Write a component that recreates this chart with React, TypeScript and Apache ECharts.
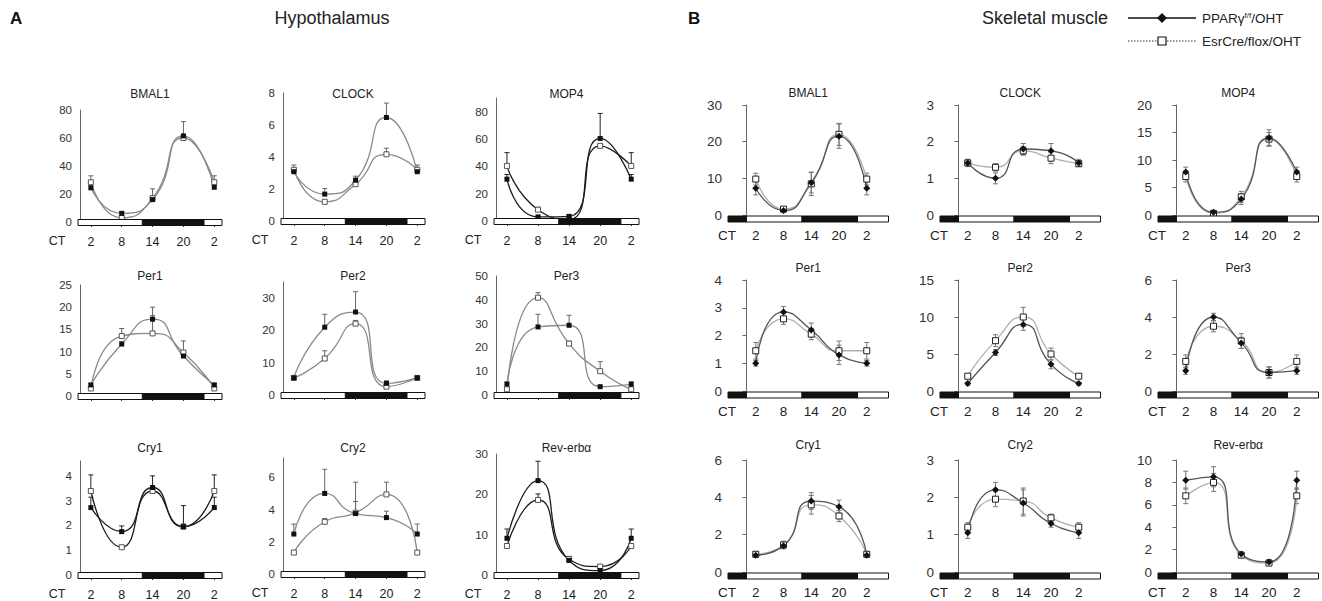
import React, { useEffect, useRef } from 'react';
import * as echarts from 'echarts';

// ---------- data ----------
const CT = [2, 8, 14, 20, 26];
const CT_TEXT = ['2', '8', '14', '20', '2'];

// A: Hypothalamus  (P = PPARγ f/f/OHT, filled; E = EsrCre/flox/OHT, open; *Err = upper SEM)
const hBmal1P = [24.4, 6.2, 16, 61.5, 24.8];
const hBmal1PErr = [1.5, 1, 7.7, 10.2, 1.5];
const hBmal1E = [28.4, 3, 17, 60, 28.4];
const hBmal1EErr = [4.6, 0, 1, 2, 4.6];

const hClockP = [3.08, 1.68, 2.55, 6.47, 3.08];
const hClockPErr = [0.2, 0.35, 0.25, 0.9, 0.2];
const hClockE = [3.2, 1.2, 2.3, 4.17, 3.2];
const hClockEErr = [0.3, 0.1, 0.1, 0.38, 0.3];

const hMop4P = [30.6, 3, 3.4, 60.4, 30.6];
const hMop4PErr = [3.4, 0.5, 1.2, 18.3, 3.4];
const hMop4E = [40.3, 8.3, 1, 55, 40.3];
const hMop4EErr = [9.7, 1.7, 0.5, 1, 9.7];

const hPer1P = [2.5, 11.7, 17.3, 9, 2.5];
const hPer1PErr = [0.3, 0.5, 2.7, 0.5, 0.3];
const hPer1E = [1.7, 13.5, 14.1, 9.8, 1.7];
const hPer1EErr = [0.3, 1.7, 4, 2.6, 0.3];

const hPer2P = [5.3, 21, 25.7, 3.6, 5.3];
const hPer2PErr = [0.5, 4, 6.3, 0.8, 0.5];
const hPer2E = [5.3, 11.3, 22.1, 2.6, 5.3];
const hPer2EErr = [0.3, 2.4, 1, 0.5, 0.3];

const hPer3P = [4.6, 28.6, 29.3, 3.5, 4.5];
const hPer3PErr = [0.8, 5.3, 4.2, 0.5, 1.1];
const hPer3E = [2.4, 40.9, 21.6, 10, 2.4];
const hPer3EErr = [0.5, 2.1, 1, 4, 0.5];

const hCry1P = [2.72, 1.75, 3.53, 1.95, 2.72];
const hCry1PErr = [0.42, 0.23, 0.47, 0.85, 0.42];
const hCry1E = [3.39, 1.12, 3.39, 1.95, 3.39];
const hCry1EErr = [0.65, 0.05, 0.1, 0.1, 0.65];

const hCry2P = [2.48, 5.0, 3.75, 3.5, 2.48];
const hCry2PErr = [0.62, 1.5, 0.75, 0.4, 0.62];
const hCry2E = [1.33, 3.24, 3.8, 4.94, 1.33];
const hCry2EErr = [0.1, 0.2, 1.9, 0.76, 0.1];

const hRevP = [9.1, 23.4, 3.6, 1.1, 9.1];
const hRevPErr = [2.3, 4.8, 1, 0.5, 2.3];
const hRevE = [7.2, 18.6, 3.9, 2.1, 7.2];
const hRevEErr = [0.5, 1.5, 0.7, 0.3, 0.5];

// B: Skeletal muscle (symmetric SEM)
const mBmal1P = [7.3, 1.2, 8.8, 21.5, 7.3];
const mBmal1PErr = [1.8, 0.3, 2.8, 3.3, 1.8];
const mBmal1E = [9.8, 1.6, 8.5, 22, 9.8];
const mBmal1EErr = [1.6, 0.3, 3.2, 3, 1.6];

const mClockP = [1.42, 1.0, 1.8, 1.75, 1.42];
const mClockPErr = [0.1, 0.15, 0.15, 0.2, 0.1];
const mClockE = [1.42, 1.3, 1.75, 1.55, 1.4];
const mClockEErr = [0.08, 0.1, 0.12, 0.15, 0.08];

const mMop4P = [7.8, 0.5, 2.9, 14.0, 7.8];
const mMop4PErr = [0.9, 0.3, 1.0, 1.5, 0.9];
const mMop4E = [7.0, 0.3, 3.3, 13.8, 7.0];
const mMop4EErr = [1.0, 0.3, 1.0, 1.2, 1.0];

const mPer1P = [1.0, 2.85, 2.2, 1.3, 1.0];
const mPer1PErr = [0.1, 0.2, 0.25, 0.35, 0.1];
const mPer1E = [1.45, 2.6, 2.05, 1.45, 1.45];
const mPer1EErr = [0.3, 0.2, 0.2, 0.35, 0.3];

const mPer2P = [1.0, 5.2, 9.0, 3.6, 1.0];
const mPer2PErr = [0.2, 0.4, 0.8, 0.6, 0.2];
const mPer2E = [2.0, 6.8, 10.0, 5.0, 2.0];
const mPer2EErr = [0.3, 0.8, 1.3, 0.8, 0.3];

const mPer3P = [1.1, 4.0, 2.6, 1.0, 1.1];
const mPer3PErr = [0.2, 0.2, 0.3, 0.3, 0.2];
const mPer3E = [1.6, 3.5, 2.7, 1.0, 1.6];
const mPer3EErr = [0.35, 0.3, 0.4, 0.3, 0.35];

const mCry1P = [0.9, 1.4, 3.8, 3.5, 0.9];
const mCry1PErr = [0.1, 0.15, 0.45, 0.35, 0.1];
const mCry1E = [0.95, 1.45, 3.6, 3.0, 0.95];
const mCry1EErr = [0.15, 0.2, 0.5, 0.3, 0.15];

const mCry2P = [1.05, 2.2, 1.85, 1.3, 1.05];
const mCry2PErr = [0.15, 0.2, 0.35, 0.1, 0.15];
const mCry2E = [1.2, 1.95, 1.9, 1.45, 1.2];
const mCry2EErr = [0.12, 0.2, 0.35, 0.1, 0.12];

const mRevP = [8.2, 8.5, 1.6, 0.9, 8.2];
const mRevPErr = [0.8, 0.9, 0.2, 0.2, 0.8];
const mRevE = [6.8, 8.0, 1.5, 0.8, 6.8];
const mRevEErr = [0.7, 0.8, 0.2, 0.15, 0.7];

// light/dark phases (CT)
const DARK_START = 12;
const DARK_END = 24;

// ---------- panels ----------
type Panel = {
  sec: 'A' | 'B'; row: number; col: number; name: string; max: number; step: number;
  p: number[]; pe: number[]; e: number[]; ee: number[]; dark?: boolean; ct: boolean;
};

const PANELS: Panel[] = [
  { sec: 'A', row: 0, col: 0, name: 'BMAL1', max: 80, step: 20, p: hBmal1P, pe: hBmal1PErr, e: hBmal1E, ee: hBmal1EErr, ct: true },
  { sec: 'A', row: 0, col: 1, name: 'CLOCK', max: 8, step: 2, p: hClockP, pe: hClockPErr, e: hClockE, ee: hClockEErr, ct: true },
  { sec: 'A', row: 0, col: 2, name: 'MOP4', max: 90, step: 20, p: hMop4P, pe: hMop4PErr, e: hMop4E, ee: hMop4EErr, dark: true, ct: true },
  { sec: 'A', row: 1, col: 0, name: 'Per1', max: 25, step: 5, p: hPer1P, pe: hPer1PErr, e: hPer1E, ee: hPer1EErr, ct: false },
  { sec: 'A', row: 1, col: 1, name: 'Per2', max: 35, step: 10, p: hPer2P, pe: hPer2PErr, e: hPer2E, ee: hPer2EErr, ct: false },
  { sec: 'A', row: 1, col: 2, name: 'Per3', max: 50, step: 10, p: hPer3P, pe: hPer3PErr, e: hPer3E, ee: hPer3EErr, ct: false },
  { sec: 'A', row: 2, col: 0, name: 'Cry1', max: 4.6, step: 1, p: hCry1P, pe: hCry1PErr, e: hCry1E, ee: hCry1EErr, dark: true, ct: true },
  { sec: 'A', row: 2, col: 1, name: 'Cry2', max: 7.2, step: 2, p: hCry2P, pe: hCry2PErr, e: hCry2E, ee: hCry2EErr, ct: true },
  { sec: 'A', row: 2, col: 2, name: 'Rev-erbα', max: 30, step: 10, p: hRevP, pe: hRevPErr, e: hRevE, ee: hRevEErr, dark: true, ct: true },
  { sec: 'B', row: 0, col: 0, name: 'BMAL1', max: 30, step: 10, p: mBmal1P, pe: mBmal1PErr, e: mBmal1E, ee: mBmal1EErr, ct: true },
  { sec: 'B', row: 0, col: 1, name: 'CLOCK', max: 3, step: 1, p: mClockP, pe: mClockPErr, e: mClockE, ee: mClockEErr, ct: true },
  { sec: 'B', row: 0, col: 2, name: 'MOP4', max: 20, step: 5, p: mMop4P, pe: mMop4PErr, e: mMop4E, ee: mMop4EErr, ct: true },
  { sec: 'B', row: 1, col: 0, name: 'Per1', max: 4, step: 1, p: mPer1P, pe: mPer1PErr, e: mPer1E, ee: mPer1EErr, ct: true },
  { sec: 'B', row: 1, col: 1, name: 'Per2', max: 15, step: 5, p: mPer2P, pe: mPer2PErr, e: mPer2E, ee: mPer2EErr, ct: true },
  { sec: 'B', row: 1, col: 2, name: 'Per3', max: 6, step: 2, p: mPer3P, pe: mPer3PErr, e: mPer3E, ee: mPer3EErr, ct: true },
  { sec: 'B', row: 2, col: 0, name: 'Cry1', max: 6, step: 2, p: mCry1P, pe: mCry1PErr, e: mCry1E, ee: mCry1EErr, ct: true },
  { sec: 'B', row: 2, col: 1, name: 'Cry2', max: 3, step: 1, p: mCry2P, pe: mCry2PErr, e: mCry2E, ee: mCry2EErr, ct: true },
  { sec: 'B', row: 2, col: 2, name: 'Rev-erbα', max: 10, step: 2, p: mRevP, pe: mRevPErr, e: mRevE, ee: mRevEErr, ct: true },
];

// ---------- layout ----------
const A_LEFT = [78, 281, 494];
const A_RIGHT = [222, 425, 639];
const A_Y0 = [[222, 221, 221], [396, 395, 395], [575, 574, 575]];
const A_TOP = [[110, 93, 98], [285, 282, 276], [461, 458, 454]];
const A_TITLE_Y = [94, 276, 448];
const A_XMIN = -0.5;
const A_XMAX = 27.5;

const B_LEFT = [728, 940, 1158];
const B_WIDTH = 160.5;
const B_Y0 = [215, 391, 572];
const B_TOP = [105, 280, 460];
const B_TITLE_Y = [93, 268, 445];
const B_XMIN = -4;
const B_XMAX = 30.7;

const FONT = '"Liberation Sans", Arial, Helvetica, sans-serif';

function isMult(v: number, step: number) {
  const r = v / step;
  return Math.abs(r - Math.round(r)) < 1e-6;
}

function buildOption() {
  const grid: any[] = [];
  const xAxis: any[] = [];
  const yAxis: any[] = [];
  const series: any[] = [];
  const graphic: any[] = [];

  PANELS.forEach((pn, i) => {
    const isA = pn.sec === 'A';
    const left = isA ? A_LEFT[pn.col] : B_LEFT[pn.col];
    const right = isA ? A_RIGHT[pn.col] : B_LEFT[pn.col] + B_WIDTH;
    const y0 = isA ? A_Y0[pn.row][pn.col] : B_Y0[pn.row];
    const top = isA ? A_TOP[pn.row][pn.col] : B_TOP[pn.row];
    const xmin = isA ? A_XMIN : B_XMIN;
    const xmax = isA ? A_XMAX : B_XMAX;

    grid.push({ left, top, width: right - left, height: y0 - top, outerBoundsMode: 'none', containLabel: false });

    xAxis.push({
      type: 'value', gridIndex: i, min: xmin, max: xmax,
      offset: isA ? 3 : 7,
      axisLine: { show: false },
      splitLine: { show: false },
      axisTick: isA
        ? { show: true, customValues: CT, length: 5, lineStyle: { color: '#333', width: 1 } }
        : { show: false },
      axisLabel: {
        show: pn.ct,
        customValues: CT,
        formatter: (v: number) => CT_TEXT[CT.indexOf(v)] ?? '',
        margin: isA ? 10 : 6,
        color: '#222', fontSize: isA ? 12.5 : 13.5, fontFamily: FONT,
      },
    });

    yAxis.push({
      type: 'value', gridIndex: i, min: 0, max: pn.max, interval: pn.step,
      splitLine: { show: false },
      axisLine: { show: true, lineStyle: { color: '#666', width: 1 } },
      axisTick: { show: !isA, length: 4, lineStyle: { color: '#666' } },
      axisLabel: {
        color: '#333', fontSize: isA ? 11.5 : 13.5, fontFamily: FONT, margin: 6,
        formatter: (v: number) => (isMult(v, pn.step) ? String(Math.round(v * 100) / 100) : ''),
      },
    });

    const lineP = isA ? (pn.dark ? '#1c1c1c' : '#8a8a8a') : '#555';
    const lineE = isA ? (pn.dark ? '#1c1c1c' : '#8a8a8a') : '#b0b0b0';
    const errColor = isA ? (pn.dark ? '#222' : '#666') : '#777';

    const mkErr = (vals: number[], errs: number[]) => ({
      type: 'custom', xAxisIndex: i, yAxisIndex: i, clip: false, silent: true, z: 2,
      data: CT.map((x, k) => [x, vals[k], errs[k]]),
      renderItem: (params: any, api: any) => {
        const x = api.value(0), v = api.value(1), e = api.value(2);
        if (!e) return null;
        const p = api.coord([x, v]);
        const pt = api.coord([x, v + e]);
        const pb = isA ? p : api.coord([x, v - e]);
        const st = { stroke: errColor, lineWidth: 1 };
        const cw = 2.5;
        const children: any[] = [
          { type: 'line', shape: { x1: p[0], y1: pb[1], x2: p[0], y2: pt[1] }, style: st },
          { type: 'line', shape: { x1: p[0] - cw, y1: pt[1], x2: p[0] + cw, y2: pt[1] }, style: st },
        ];
        if (!isA) children.push({ type: 'line', shape: { x1: p[0] - cw, y1: pb[1], x2: p[0] + cw, y2: pb[1] }, style: st });
        return { type: 'group', children };
      },
    });

    series.push(mkErr(pn.e, pn.ee));
    series.push(mkErr(pn.p, pn.pe));

    series.push({
      type: 'line', xAxisIndex: i, yAxisIndex: i, z: 3, smooth: 0.6, silent: true,
      data: CT.map((x, k) => [x, pn.e[k]]),
      symbol: 'rect', symbolSize: isA ? 5 : 6,
      itemStyle: { color: '#fff', borderColor: isA ? '#555' : '#222', borderWidth: 1 },
      lineStyle: { color: lineE, width: 1.3 },
    });
    series.push({
      type: 'line', xAxisIndex: i, yAxisIndex: i, z: 3, smooth: 0.6, silent: true,
      data: CT.map((x, k) => [x, pn.p[k]]),
      symbol: isA ? 'rect' : 'diamond', symbolSize: isA ? 5 : 7,
      itemStyle: { color: '#111' },
      lineStyle: { color: lineP, width: 1.3 },
    });

    const segs = isA
      ? [[xmin, xmax, 0], [DARK_START, DARK_END, 1]]
      : [[xmin, 0, 1], [0, DARK_START, 0], [DARK_START, DARK_END, 1], [DARK_END, xmax, 0]];
    series.push({
      type: 'custom', xAxisIndex: i, yAxisIndex: i, clip: false, silent: true, z: 5,
      data: segs,
      renderItem: (params: any, api: any) => {
        const a = api.coord([api.value(0), 0]);
        const b = api.coord([api.value(1), 0]);
        const dy = isA ? -2.5 : 1;
        const h = 6;
        return {
          type: 'rect',
          shape: { x: a[0], y: a[1] + dy, width: b[0] - a[0], height: h },
          style: { fill: api.value(2) ? '#111' : '#fff', stroke: '#111', lineWidth: 1 },
        };
      },
    });

    graphic.push({
      type: 'text', x: (left + right) / 2, y: isA ? A_TITLE_Y[pn.row] : B_TITLE_Y[pn.row],
      style: { text: pn.name, fontSize: 12, fontFamily: FONT, fill: '#222', align: 'center', verticalAlign: 'middle' },
    });
    if (pn.ct) {
      graphic.push({
        type: 'text', x: isA ? left - 21 : left - 1, y: isA ? y0 + 19 : y0 + 20,
        style: { text: 'CT', fontSize: isA ? 12.5 : 13.5, fontFamily: FONT, fill: '#222', align: 'center', verticalAlign: 'middle' },
      });
    }
  });

  graphic.push({ type: 'text', x: 10, y: 18, style: { text: 'A', fontSize: 17, fontWeight: 'bold', fontFamily: FONT, fill: '#111', verticalAlign: 'middle' } });
  graphic.push({ type: 'text', x: 332, y: 18, style: { text: 'Hypothalamus', fontSize: 18, fontFamily: FONT, fill: '#222', align: 'center', verticalAlign: 'middle' } });
  graphic.push({ type: 'text', x: 688, y: 18, style: { text: 'B', fontSize: 17, fontWeight: 'bold', fontFamily: FONT, fill: '#111', verticalAlign: 'middle' } });
  graphic.push({ type: 'text', x: 1045, y: 18, style: { text: 'Skeletal muscle', fontSize: 18, fontFamily: FONT, fill: '#222', align: 'center', verticalAlign: 'middle' } });

  const lx1 = 1128, lx2 = 1196, lm = 1162, ly1 = 18, ly2 = 41;
  graphic.push({ type: 'line', shape: { x1: lx1, y1: ly1, x2: lx2, y2: ly1 }, style: { stroke: '#111', lineWidth: 1.6 } });
  graphic.push({ type: 'polygon', shape: { points: [[lm, ly1 - 5], [lm + 5, ly1], [lm, ly1 + 5], [lm - 5, ly1]] }, style: { fill: '#111' } });
  graphic.push({ type: 'line', shape: { x1: lx1, y1: ly2, x2: lx2, y2: ly2 }, style: { stroke: '#333', lineWidth: 1.2, lineDash: [1.5, 1.5] } });
  graphic.push({ type: 'rect', shape: { x: lm - 4, y: ly2 - 4, width: 8, height: 8 }, style: { fill: '#fff', stroke: '#111', lineWidth: 1.2 } });
  graphic.push({
    type: 'text', x: 1202, y: ly1,
    style: {
      text: '{a|PPARγ}{s|f/f}{a|/OHT}', fontFamily: FONT, verticalAlign: 'middle', fill: '#222',
      rich: { a: { fontSize: 13.5, fontFamily: FONT, fill: '#222' }, s: { fontSize: 8, fontFamily: FONT, fill: '#222', verticalAlign: 'top' } },
    },
  });
  graphic.push({ type: 'text', x: 1202, y: ly2, style: { text: 'EsrCre/flox/OHT', fontSize: 13.5, fontFamily: FONT, fill: '#222', verticalAlign: 'middle' } });

  return { animation: false, backgroundColor: '#fff', grid, xAxis, yAxis, series, graphic };
}

export default function App() {
  const ref = useRef<HTMLDivElement>(null);
  useEffect(() => {
    if (!ref.current) return;
    const chart = echarts.init(ref.current, undefined, { renderer: 'svg' });
    chart.setOption(buildOption() as any);
    return () => chart.dispose();
  }, []);
  return <div ref={ref} style={{ position: 'absolute', left: 0, top: 0, width: 1322, height: 601 }} />;
}
